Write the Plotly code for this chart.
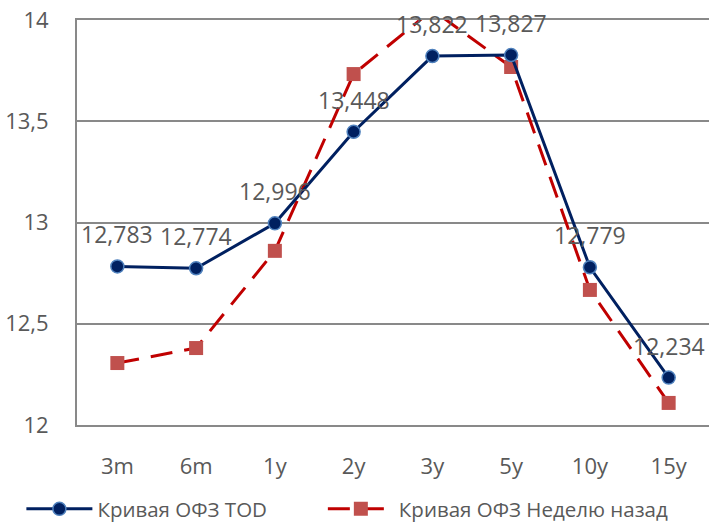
import plotly.graph_objects as go

categories = ["3m", "6m", "1y", "2y", "3y", "5y", "10y", "15y"]
tod_values = [12.783, 12.774, 12.996, 13.448, 13.822, 13.827, 12.779, 12.234]
week_ago_values = [12.306, 12.38, 12.86, 13.733, 14.05, 13.768, 12.667, 12.109]
tod_labels = ["12,783", "12,774", "12,996", "13,448", "13,822", "13,827", "12,779", "12,234"]
y_ticks = [12, 12.5, 13, 13.5, 14]
y_tick_text = ["12", "12,5", "13", "13,5", "14"]

FONT = "Open Sans"
GRAY = "#595959"
GRID = "#898989"

fig = go.Figure()
fig.add_trace(go.Scatter(
    x=categories, y=week_ago_values, name="Кривая ОФЗ Неделю назад",
    mode="lines+markers", legend="legend2",
    line=dict(color="#C00000", width=3, dash="22px,12px"),
    marker=dict(symbol="square", size=14, color="#C0504D"),
    cliponaxis=True,
))
fig.add_trace(go.Scatter(
    x=categories, y=tod_values, name="Кривая ОФЗ TOD",
    mode="lines+markers", legend="legend",
    line=dict(color="#002060", width=3),
    marker=dict(symbol="circle", size=13, color="#002060",
                line=dict(color="#4F81BD", width=1.5)),
    cliponaxis=False,
))
for cat, val, lab in zip(categories, tod_values, tod_labels):
    fig.add_annotation(x=cat, y=val, text=lab, showarrow=False, yshift=32,
                       font=dict(family=FONT, size=23, color=GRAY))

legend_common = dict(orientation="h", y=-0.2074, yanchor="middle",
                     itemwidth=66, font=dict(family=FONT, size=20.5, color=GRAY),
                     bgcolor="rgba(0,0,0,0)")
fig.update_layout(
    width=710, height=523,
    margin=dict(l=77, r=1, t=20, b=98, autoexpand=False),
    paper_bgcolor="white", plot_bgcolor="white",
    font=dict(family=FONT, size=20, color=GRAY),
    showlegend=True,
    legend=dict(x=-0.088, xanchor="left", **legend_common),
    legend2=dict(x=0.389, xanchor="left", **legend_common),
)
fig.update_xaxes(
    type="category", categoryorder="array", categoryarray=categories,
    showline=True, mirror=True, linecolor=GRID, linewidth=2, automargin=False,
    showgrid=False, ticks="", ticklabelstandoff=21,
    tickfont=dict(family=FONT, size=22, color=GRAY),
)
fig.update_yaxes(
    range=[12, 14], tickvals=y_ticks, ticktext=y_tick_text,
    showline=True, linecolor=GRID, linewidth=2, automargin=False,
    showgrid=True, gridcolor=GRID, gridwidth=1.5,
    zeroline=False, ticks="", ticklabelstandoff=22, ticklabeloverflow="allow",
    tickfont=dict(family=FONT, size=22, color=GRAY),
)
fig.write_html("out.html", config={"displayModeBar": False},
               post_script="document.body.style.margin='0';document.body.style.overflow='hidden';")
